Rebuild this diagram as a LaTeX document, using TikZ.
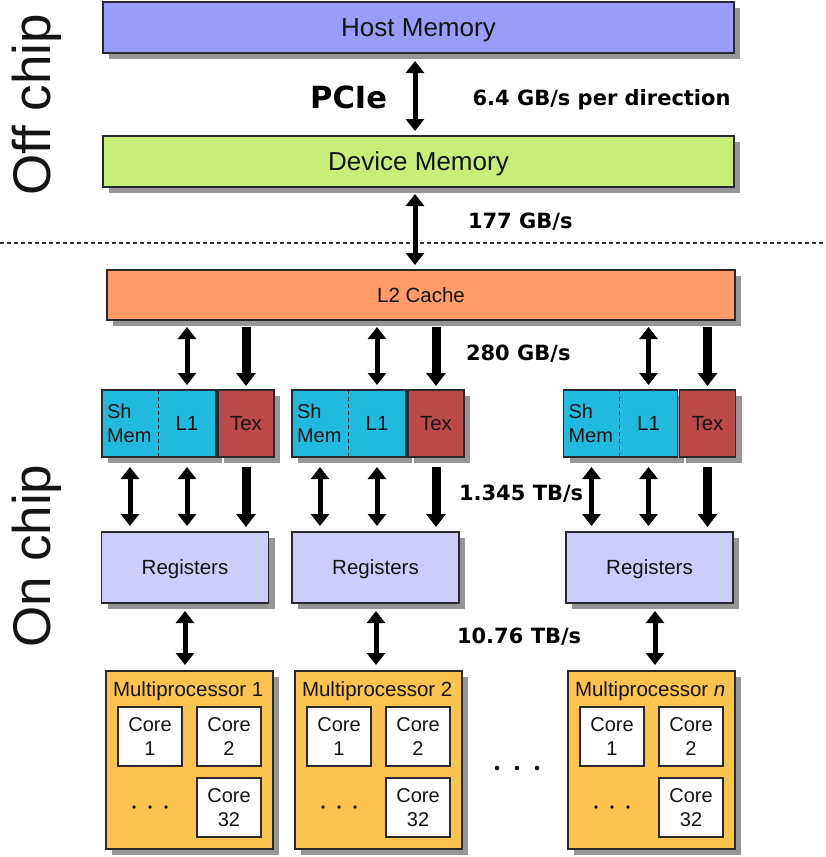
\documentclass[tikz,border=0pt]{standalone}
\usepackage{fontspec}
\setmainfont{Liberation Sans}
\newfontfamily\bwfont{DejaVu Sans}
\usetikzlibrary{arrows.meta,shadows}

\definecolor{hostc}{RGB}{155,155,250}
\definecolor{devc}{RGB}{200,238,122}
\definecolor{l2c}{RGB}{255,155,105}
\definecolor{l1c}{RGB}{32,186,222}
\definecolor{texc}{RGB}{188,74,72}
\definecolor{regc}{RGB}{205,205,250}
\definecolor{mpc}{RGB}{252,196,78}
\definecolor{shadowc}{RGB}{150,150,150}
\definecolor{edgec}{RGB}{40,40,45}
\definecolor{txtc}{RGB}{20,20,20}

\tikzset{
  box/.style={rectangle, draw=edgec, line width=1.2pt, inner sep=0pt, outer sep=0pt, text=txtc,
    drop shadow={shadow xshift=6pt, shadow yshift=-6pt, opacity=1, fill=shadowc}},
  plainbox/.style={rectangle, draw=edgec, line width=1.2pt, inner sep=0pt, outer sep=0pt, fill=white, text=txtc},
  region/.style={rectangle, inner sep=0pt, outer sep=0pt},
  txt/.style={inner sep=0pt, outer sep=0pt, text=txtc},
  bigfont/.style={font=\fontsize{26}{30}\selectfont, text height=18.6pt, text depth=0pt},
  midfont/.style={font=\fontsize{20.5}{24}\selectfont, text height=14.7pt, text depth=0pt},
  smallfont/.style={font=\fontsize{20}{24}\selectfont},
  dbl/.style={line width=5pt, {Triangle[width=18pt,length=12pt]}-{Triangle[width=18pt,length=12pt]}, shorten <=7pt, shorten >=5pt},
  sgl/.style={line width=9pt, -{Triangle[width=19pt,length=13pt]}, shorten <=7pt, shorten >=4pt},
  bw/.style={inner sep=0pt, outer sep=0pt, font=\bwfont\bfseries\fontsize{21}{25}\selectfont},
  divider/.style={line width=1.3pt, draw=black!80, dash pattern=on 4pt off 3pt},
  divdash/.style={line width=1pt, draw=edgec, dash pattern=on 4pt off 3pt},
}

\begin{document}
\begin{tikzpicture}[x=1pt,y=-1pt]
\useasboundingbox (0,0) rectangle (825,857);

% side labels
\node[txt, rotate=90, anchor=base, font=\fontsize{53}{60}\selectfont] (offchip) at (50,105) {Off chip};
\node[txt, rotate=90, anchor=base, font=\fontsize{53}{60}\selectfont] (onchip) at (50,556) {On chip};

% divider
\coordinate (dl) at (0,243);
\coordinate (dr) at (825,243);
\draw[divider] (dl) -- (dr);

% memories
\node[box, fill=hostc, minimum width=631pt, minimum height=51pt, bigfont] (host) at (418.5,27.5) {Host Memory};
\node[box, fill=devc, minimum width=631pt, minimum height=51pt, bigfont] (device) at (418.5,161.5) {Device Memory};
\node[box, fill=l2c, minimum width=628pt, minimum height=50pt, midfont] (l2) at (421,295) {L2 Cache};

\coordinate (pcx) at (415,0);
\draw[dbl, shorten <=8pt] (host.south -| pcx) -- (device.north -| pcx);
\draw[dbl] (device.south -| pcx) -- (l2.north -| pcx);

% bandwidth labels
\node[bw, anchor=base east, font=\bwfont\bfseries\fontsize{30.5}{34}\selectfont] (pcie) at (387,108) {PCIe};
\node[bw, anchor=base west] (bw1) at (472.5,105) {6.4 GB/s per direction};
\node[bw, anchor=base west] (bw2) at (468,228) {177 GB/s};
\node[bw, anchor=base west] (bw3) at (466,360) {280 GB/s};
\node[bw, anchor=base west] (bw4) at (459,500) {1.345 TB/s};
\node[bw, anchor=base west] (bw5) at (457,643) {10.76 TB/s};

% blocks
\foreach \i/\b/\rc/\mc/\ax/\lab in {1/102/185/189.5/185/1, 2/292/375.5/378.5/376/2, 3/563.5/649.5/651.5/655/{\textit{n}}}{
  % shared mem / L1
  \node[box, fill=l1c, minimum width=114pt, minimum height=67pt] (c\i) at (\b+57,423.5) {};
  \node[region, minimum width=56pt, minimum height=67pt, anchor=west] (sh\i) at (c\i.west) {};
  \node[region, minimum width=58pt, minimum height=67pt, anchor=east] (l1\i) at (c\i.east) {};
  \draw[divdash] (sh\i.north east) -- (sh\i.south east);
  \node[txt, anchor=west, align=left, smallfont] (sht\i) at ([xshift=5pt]c\i.west) {Sh\\Mem};
  \node[txt, midfont] (l1t\i) at (l1\i.center) {L1};
  % texture
  \node[box, fill=texc, minimum width=56pt, minimum height=67pt, midfont] (tex\i) at (\b+144,423.5) {Tex};
  % registers
  \node[box, fill=regc, minimum width=167pt, minimum height=71pt, midfont] (reg\i) at (\rc,567.5) {Registers};
  % multiprocessor
  \node[box, fill=mpc, minimum width=167pt, minimum height=178pt] (mp\i) at (\mc,760) {};
  \node[txt, anchor=base west, font=\fontsize{20.5}{24}\selectfont] (mpl\i) at (\mc-76.5,696) {Multiprocessor \lab};
  \node[plainbox, minimum width=64pt, minimum height=59pt, align=center, smallfont] (ca\i) at (\mc-39.5,736.5) {Core\\1};
  \node[plainbox, minimum width=64pt, minimum height=59pt, align=center, smallfont] (cb\i) at (\mc+39.5,736.5) {Core\\2};
  \node[plainbox, minimum width=64pt, minimum height=59pt, align=center, smallfont] (cc\i) at (\mc+39.5,807.5) {Core\\32};
  \fill[txtc] (\mc-55.5,807) circle (1.9pt) (\mc-39.5,807) circle (1.9pt) (\mc-23.5,807) circle (1.9pt);
  % arrows
  \coordinate (ax\i) at (\ax,0);
  \draw[dbl] (l2.south -| l1\i.north) -- (l1\i.north);
  \draw[sgl] (l2.south -| tex\i.north) -- (tex\i.north);
  \draw[dbl, shorten <=10pt, shorten >=6pt] (sh\i.south) -- (reg\i.north -| sh\i.south);
  \draw[dbl, shorten <=10pt, shorten >=6pt] (l1\i.south) -- (reg\i.north -| l1\i.south);
  \draw[sgl, shorten <=10pt, shorten >=5pt] (tex\i.south) -- (reg\i.north -| tex\i.south);
  \draw[dbl, shorten <=8pt, shorten >=6pt] (reg\i.south -| ax\i) -- (mp\i.north -| ax\i);
}

% dots between multiprocessors
\fill[txtc] (497,768) circle (2.3pt) (517,768) circle (2.3pt) (537,768) circle (2.3pt);

\end{tikzpicture}
\end{document}
